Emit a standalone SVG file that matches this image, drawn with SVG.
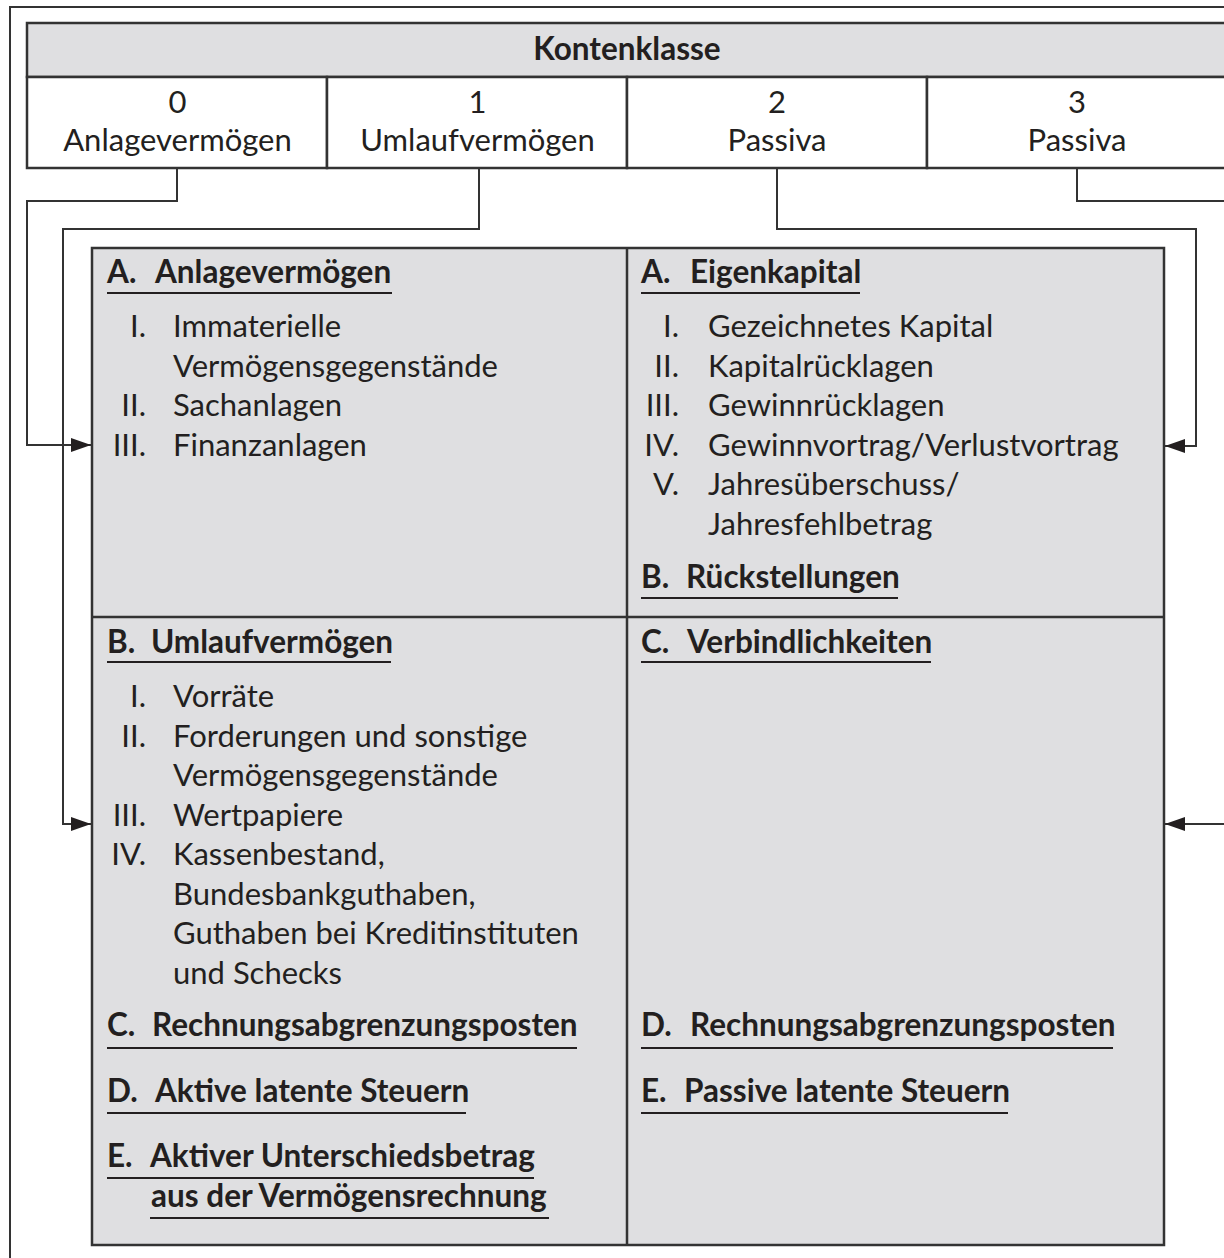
<svg xmlns="http://www.w3.org/2000/svg" width="1224" height="1258" viewBox="0 0 1224 1258">
<style>
  .ln { fill: none; stroke: #333; stroke-width: 2; }
  .box { stroke: #333; stroke-width: 2.5; }
  .t { font-family: Lato, "Liberation Sans", sans-serif; fill: #231f20; font-size: 31px; }
  .h { font-family: Lato, "Liberation Sans", sans-serif; fill: #231f20; font-size: 31px; }
  .b { font-weight: bold; font-size: 31.5px; }
  .c { text-anchor: middle; }
  .e { text-anchor: end; }
  .ul { stroke: #231f20; stroke-width: 2; }
</style>
<defs>
  <marker id="arr" viewBox="0 0 20 14" refX="20" refY="7" markerWidth="20" markerHeight="14" markerUnits="userSpaceOnUse" orient="auto">
    <path d="M0,0 L20,7 L0,14 z" fill="#231f20"/>
  </marker>
</defs>
<rect width="1224" height="1258" fill="#ffffff"/>
<path class="ln" d="M10,1270 V7 H1240"/>

<g id="kontenklasse">
  <rect x="27" y="23" width="1220" height="54" fill="#dfdfe1" class="box"/>
  <text class="h b c" x="627" y="60">Kontenklasse</text>
</g>
<g id="klasse0">
  <rect x="27" y="77" width="300" height="91" fill="#ffffff" class="box"/>
  <text class="h c" x="177.5" y="113">0</text>
  <text class="h c" x="177.5" y="151">Anlagevermögen</text>
</g>
<g id="klasse1">
  <rect x="327" y="77" width="300" height="91" fill="#ffffff" class="box"/>
  <text class="h c" x="477.5" y="113">1</text>
  <text class="h c" x="477.5" y="151">Umlaufvermögen</text>
</g>
<g id="klasse2">
  <rect x="627" y="77" width="300" height="91" fill="#ffffff" class="box"/>
  <text class="h c" x="777" y="113">2</text>
  <text class="h c" x="777" y="151">Passiva</text>
</g>
<g id="klasse3">
  <rect x="927" y="77" width="320" height="91" fill="#ffffff" class="box"/>
  <text class="h c" x="1077" y="113">3</text>
  <text class="h c" x="1077" y="151">Passiva</text>
</g>

<g id="bilanz">
  <rect x="92" y="248" width="1072" height="997" fill="#dfdfe1" class="box"/>
  <line class="box" x1="627" y1="248" x2="627" y2="1245"/>
  <line class="box" x1="92" y1="617" x2="1164" y2="617"/>
</g>

<g id="aktiva-a">
  <text class="t b" x="107" y="283">A.<tspan x="155">Anlagevermögen</tspan></text>
  <line class="ul" x1="107" y1="293" x2="392" y2="293"/>
  <text class="t e" x="146" y="337">I.</text><text class="t" x="173" y="337">Immaterielle</text>
  <text class="t" x="173" y="376.5">Vermögensgegenstände</text>
  <text class="t e" x="146" y="416">II.</text><text class="t" x="173" y="416">Sachanlagen</text>
  <text class="t e" x="146" y="455.5">III.</text><text class="t" x="173" y="455.5">Finanzanlagen</text>
</g>

<g id="passiva-ab">
  <text class="t b" x="641" y="283">A.<tspan x="690">Eigenkapital</tspan></text>
  <line class="ul" x1="641" y1="293" x2="860" y2="293"/>
  <text class="t e" x="679" y="337">I.</text><text class="t" x="708" y="337">Gezeichnetes Kapital</text>
  <text class="t e" x="679" y="376.5">II.</text><text class="t" x="708" y="376.5">Kapitalrücklagen</text>
  <text class="t e" x="679" y="416">III.</text><text class="t" x="708" y="416">Gewinnrücklagen</text>
  <text class="t e" x="679" y="455.5">IV.</text><text class="t" x="708" y="455.5">Gewinnvortrag/Verlustvortrag</text>
  <text class="t e" x="679" y="495">V.</text><text class="t" x="708" y="495">Jahresüberschuss/</text>
  <text class="t" x="708" y="534.5">Jahresfehlbetrag</text>
  <text class="t b" x="641" y="588">B.<tspan x="686">Rückstellungen</tspan></text>
  <line class="ul" x1="641" y1="598" x2="898" y2="598"/>
</g>

<g id="aktiva-be">
  <text class="t b" x="107" y="653">B.<tspan x="151">Umlaufvermögen</tspan></text>
  <line class="ul" x1="107" y1="662" x2="391" y2="662"/>
  <text class="t e" x="146" y="707">I.</text><text class="t" x="173" y="707">Vorräte</text>
  <text class="t e" x="146" y="746.5">II.</text><text class="t" x="173" y="746.5">Forderungen und sonstige</text>
  <text class="t" x="173" y="786">Vermögensgegenstände</text>
  <text class="t e" x="146" y="825.5">III.</text><text class="t" x="173" y="825.5">Wertpapiere</text>
  <text class="t e" x="146" y="865">IV.</text><text class="t" x="173" y="865">Kassenbestand,</text>
  <text class="t" x="173" y="904.5">Bundesbankguthaben,</text>
  <text class="t" x="173" y="944">Guthaben bei Kreditinstituten</text>
  <text class="t" x="173" y="983.5">und Schecks</text>
  <text class="t b" x="107" y="1036">C.<tspan x="152">Rechnungsabgrenzungsposten</tspan></text>
  <line class="ul" x1="107" y1="1048" x2="577" y2="1048"/>
  <text class="t b" x="107" y="1102">D.<tspan x="155">Aktive latente Steuern</tspan></text>
  <line class="ul" x1="107" y1="1113" x2="466" y2="1113"/>
  <text class="t b" x="107" y="1167">E.<tspan x="150">Aktiver Unterschiedsbetrag</tspan></text>
  <line class="ul" x1="107" y1="1178" x2="534" y2="1178"/>
  <text class="t b" x="151" y="1207">aus der Vermögensrechnung</text>
  <line class="ul" x1="150" y1="1218" x2="549" y2="1218"/>
</g>

<g id="passiva-ce">
  <text class="t b" x="641" y="653">C.<tspan x="687">Verbindlichkeiten</tspan></text>
  <line class="ul" x1="641" y1="662" x2="931" y2="662"/>
  <text class="t b" x="641" y="1036">D.<tspan x="690">Rechnungsabgrenzungsposten</tspan></text>
  <line class="ul" x1="641" y1="1048" x2="1113" y2="1048"/>
  <text class="t b" x="641" y="1102">E.<tspan x="684">Passive latente Steuern</tspan></text>
  <line class="ul" x1="641" y1="1113" x2="1008" y2="1113"/>
</g>

<g id="connectors">
  <path class="ln" d="M177,169 V201 H27 V445 H91" marker-end="url(#arr)"/>
  <path class="ln" d="M479,169 V229 H63 V824 H91" marker-end="url(#arr)"/>
  <path class="ln" d="M777,169 V229 H1196 V446 H1165" marker-end="url(#arr)"/>
  <path class="ln" d="M1077,169 V201 H1240 V824 H1165" marker-end="url(#arr)"/>
</g>
</svg>
